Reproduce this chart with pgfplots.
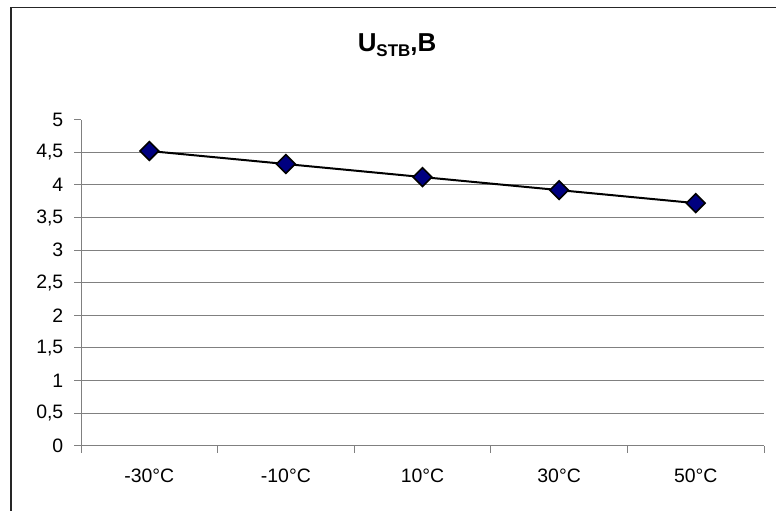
\documentclass[border=0pt]{standalone}
\usepackage{pgfplots}
\pgfplotsset{compat=1.18}
\usepackage{fontspec}
\setmainfont{Liberation Sans}
\definecolor{navy}{RGB}{0,0,128}
\definecolor{gridgray}{RGB}{128,128,128}
\begin{document}
\begin{tikzpicture}[x=1bp,y=1bp]
\path[use as bounding box] (0,0) rectangle (776,511);
\draw[line width=1.4bp, black!85] (11,0) -- (11,503.5) -- (776,503.5);
\node[anchor=base, inner sep=0pt, font=\bfseries] at (397,459.3)
  {\fontsize{26}{30}\selectfont U\raisebox{-5bp}{\fontsize{17}{20}\selectfont STB},B};
\begin{axis}[
  at={(81bp,65.3bp)}, anchor=south west,
  scale only axis, width=683bp, height=326bp,
  xmin=-0.5, xmax=4.5, ymin=0, ymax=5,
  axis x line=bottom, axis y line=left,
  axis line style={gridgray, line width=0.9bp, -},
  xtick={0,1,2,3,4},
  xticklabels={-30°C,-10°C,10°C,30°C,50°C},
  major x tick style={draw=none},
  minor xtick={-0.5,0.5,1.5,2.5,3.5,4.5},
  minor x tick style={gridgray, line width=0.9bp},
  minor tick length=7bp,
  xtick align=outside,
  ytick={0,0.5,...,4.5},
  extra y ticks={5},
  extra y tick style={grid=none},
  ytick align=outside,
  major tick length=7bp,
  y tick style={gridgray, line width=0.9bp},
  ymajorgrids, grid style={gridgray, line width=0.9bp},
  /pgf/number format/fixed, /pgf/number format/use comma,
  /pgf/number format/assume math mode=true,
  tick label style={font=\fontsize{19.5}{22}\selectfont},
  xticklabel style={anchor=base, inner sep=0pt, yshift=-30bp},
  yticklabel style={anchor=east, inner sep=0pt, xshift=-10.5bp},
  clip=false,
]
\addplot[black, line width=2bp, mark=square*, mark size=6.6bp,
  mark options={rotate=45, fill=navy, draw=black, line width=1.6bp}]
  coordinates {(0,4.52) (1,4.32) (2,4.12) (3,3.92) (4,3.72)};
\end{axis}
\end{tikzpicture}
\end{document}
